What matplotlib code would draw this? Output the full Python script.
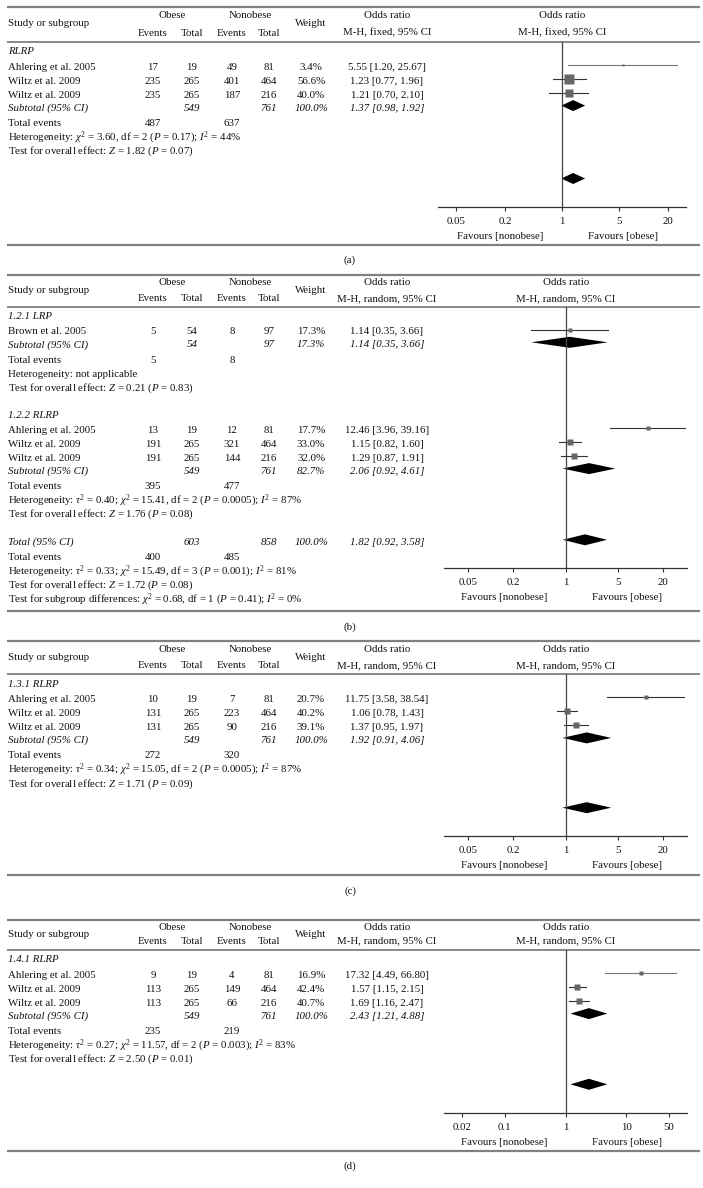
import matplotlib
matplotlib.use("Agg")
import matplotlib.pyplot as plt
from matplotlib.ticker import NullLocator
from math import sqrt

plt.rcParams['font.family'] = ['Liberation Serif', 'DejaVu Serif']
plt.rcParams['mathtext.fontset'] = 'custom'
plt.rcParams['mathtext.rm'] = 'Liberation Serif'
plt.rcParams['mathtext.it'] = 'Liberation Serif:italic'
plt.rcParams['font.size'] = 7.8

W, H = 703, 1188

# rows: study, obese events, obese total, nonobese events, nonobese total, weight %, OR, lower, upper
rlrp_a = [
    ("Ahlering et al. 2005", 17, 19, 49, 81, 3.4, 5.55, 1.20, 25.67),
    ("Wiltz et al. 2009", 235, 265, 401, 464, 56.6, 1.23, 0.77, 1.96),
    ("Wiltz et al. 2009", 235, 265, 187, 216, 40.0, 1.21, 0.70, 2.10),
]
sub_a = (549, 761, 100.0, 1.37, 0.98, 1.92)
events_a = (487, 637)
het_a = r"$\chi^2$ = 3.60, df = 2 ($P$ = 0.17); $I^2$ = 44%"
test_a = r"$Z$ = 1.82 ($P$ = 0.07)"

lrp_b = [
    ("Brown et al. 2005", 5, 54, 8, 97, 17.3, 1.14, 0.35, 3.66),
]
sub_b1 = (54, 97, 17.3, 1.14, 0.35, 3.66)
events_b1 = (5, 8)
het_b1 = "not applicable"
test_b1 = r"$Z$ = 0.21 ($P$ = 0.83)"

rlrp_b = [
    ("Ahlering et al. 2005", 13, 19, 12, 81, 17.7, 12.46, 3.96, 39.16),
    ("Wiltz et al. 2009", 191, 265, 321, 464, 33.0, 1.15, 0.82, 1.60),
    ("Wiltz et al. 2009", 191, 265, 144, 216, 32.0, 1.29, 0.87, 1.91),
]
sub_b2 = (549, 761, 82.7, 2.06, 0.92, 4.61)
events_b2 = (395, 477)
het_b2 = r"$\tau^2$ = 0.40; $\chi^2$ = 15.41, df = 2 ($P$ = 0.0005); $I^2$ = 87%"
test_b2 = r"$Z$ = 1.76 ($P$ = 0.08)"

total_b = (603, 858, 100.0, 1.82, 0.92, 3.58)
events_b = (400, 485)
het_b = r"$\tau^2$ = 0.33; $\chi^2$ = 15.49, df = 3 ($P$ = 0.001); $I^2$ = 81%"
test_b = r"$Z$ = 1.72 ($P$ = 0.08)"
diff_b = r"$\chi^2$ = 0.68, df = 1 ($P$ = 0.41); $I^2$ = 0%"

rlrp_c = [
    ("Ahlering et al. 2005", 10, 19, 7, 81, 20.7, 11.75, 3.58, 38.54),
    ("Wiltz et al. 2009", 131, 265, 223, 464, 40.2, 1.06, 0.78, 1.43),
    ("Wiltz et al. 2009", 131, 265, 90, 216, 39.1, 1.37, 0.95, 1.97),
]
sub_c = (549, 761, 100.0, 1.92, 0.91, 4.06)
events_c = (272, 320)
het_c = r"$\tau^2$ = 0.34; $\chi^2$ = 15.05, df = 2 ($P$ = 0.0005); $I^2$ = 87%"
test_c = r"$Z$ = 1.71 ($P$ = 0.09)"

rlrp_d = [
    ("Ahlering et al. 2005", 9, 19, 4, 81, 16.9, 17.32, 4.49, 66.80),
    ("Wiltz et al. 2009", 113, 265, 149, 464, 42.4, 1.57, 1.15, 2.15),
    ("Wiltz et al. 2009", 113, 265, 66, 216, 40.7, 1.69, 1.16, 2.47),
]
sub_d = (549, 761, 100.0, 2.43, 1.21, 4.88)
events_d = (235, 219)
het_d = r"$\tau^2$ = 0.27; $\chi^2$ = 11.57, df = 2 ($P$ = 0.003); $I^2$ = 83%"
test_d = r"$Z$ = 2.50 ($P$ = 0.01)"

ticks_abc = [0.05, 0.2, 1, 5, 20]
ticks_d = [0.02, 0.1, 1, 10, 50]

# column centres (pixels)
X_NAME, X_EV1, X_N1, X_EV2, X_N2, X_W, X_OR = 8, 153, 192, 232, 269, 311, 387
DY = 2.5  # markers sit a little above the text centre

fig = plt.figure(figsize=(W / 100, H / 100), dpi=100)
tab = fig.add_axes([0, 0, 1, 1])
tab.set_xlim(0, W)
tab.set_ylim(H, 0)
tab.axis('off')


def txt(x, y, s, ha='center', style='normal'):
    tab.text(x, y, s, ha=ha, va='center', style=style, color='#111111')


def rule(y, lw=1.3):
    tab.plot([7, 700], [y, y], color='#808080', lw=lw, solid_capstyle='butt')


def header(top, y1, y2, hl, model, xc):
    rule(top, 1.6)
    txt(X_NAME, (y1 + y2) / 2, "Study or subgroup", ha='left')
    txt((X_EV1 + X_N1) / 2, y1, "Obese")
    txt(X_EV1, y2, "Events")
    txt(X_N1, y2, "Total")
    txt((X_EV2 + X_N2) / 2, y1, "Nonobese")
    txt(X_EV2, y2, "Events")
    txt(X_N2, y2, "Total")
    txt(X_W, (y1 + y2) / 2, "Weight")
    txt(X_OR, y1, "Odds ratio")
    txt(X_OR, y2, "M-H, %s, 95%% CI" % model)
    txt(xc, y1, "Odds ratio")
    txt(xc, y2, "M-H, %s, 95%% CI" % model)
    rule(hl, 1.3)


def forest(left, right, top, bottom, half, ticks):
    fa = fig.add_axes([left / W, 1 - bottom / H, (right - left) / W, (bottom - top) / H])
    fa.set_xscale('log')
    fa.set_xlim(10 ** -half, 10 ** half)
    fa.set_ylim(bottom, top)
    fa.patch.set_alpha(0)
    for s in ('top', 'left', 'right'):
        fa.spines[s].set_visible(False)
    fa.spines['bottom'].set_color('#333333')
    fa.spines['bottom'].set_linewidth(0.9)
    fa.set_yticks([])
    fa.set_xticks(ticks)
    fa.set_xticklabels(['%g' % t for t in ticks])
    fa.xaxis.set_minor_locator(NullLocator())
    fa.tick_params(axis='x', length=3, width=0.8, pad=4, color='#333333', labelsize=7.8,
                   labelcolor='#111111')
    fa.axvline(1, color='#444444', lw=0.9)
    return fa


def diamond(fa, y, est, lo, hi, h=11):
    fa.fill([lo, est, hi, est], [y, y - h / 2, y, y + h / 2], color='black', lw=0)


def summary(fa, y, label, vals, italic=True, draw=True):
    n1, n2, w, est, lo, hi = vals
    st = 'italic' if italic else 'normal'
    txt(X_NAME, y, label, ha='left', style=st)
    txt(X_N1, y, str(n1), style=st)
    txt(X_N2, y, str(n2), style=st)
    txt(X_W, y, '%.1f%%' % w, style=st)
    txt(X_OR, y, '%.2f [%.2f, %.2f]' % (est, lo, hi), style=st)
    if draw:
        diamond(fa, y - DY, est, lo, hi)


def stats(y, events, het, test):
    txt(X_NAME, y, "Total events", ha='left')
    txt(X_EV1, y, str(events[0]))
    txt(X_EV2, y, str(events[1]))
    txt(X_NAME, y + 14, "Heterogeneity: " + het, ha='left')
    txt(X_NAME, y + 28, "Test for overall effect: " + test, ha='left')


def subgroup(fa, y0, label, rows, sub, events, het, test, k):
    txt(X_NAME, y0, label, ha='left', style='italic')
    y = y0 + 15.3
    for name, e1, n1, e2, n2, w, est, lo, hi in rows:
        txt(X_NAME, y, name, ha='left')
        for x, v in zip((X_EV1, X_N1, X_EV2, X_N2), (e1, n1, e2, n2)):
            txt(x, y, str(v))
        txt(X_W, y, '%.1f%%' % w)
        txt(X_OR, y, '%.2f [%.2f, %.2f]' % (est, lo, hi))
        # small-weight studies are drawn with a lighter line, as in the source
        lc = '#777777' if w < 17 else '#333333'
        fa.plot([lo, hi], [y - DY, y - DY], color=lc, lw=0.8)
        fa.plot(est, y - DY, marker='s', ms=k * sqrt(w) * 0.72, color='#666666', mec='none')
        y += 14
    y += -14 + 12.8
    summary(fa, y, "Subtotal (95% CI)", sub)
    stats(y + 15.6, events, het, test)
    return y


def footer(fa_axis, xc, bottom, cap_y, cap):
    txt(xc - 62, fa_axis + 29.5, "Favours [nonobese]")
    txt(xc + 61, fa_axis + 29.5, "Favours [obese]")
    rule(bottom, 1.6)
    txt(350, cap_y, cap)


# (a)
header(7, 15, 33, 42, "fixed", 562)
fa = forest(438, 686, 42, 207, 1.52, ticks_abc)
subgroup(fa, 52, "RLRP", rlrp_a, sub_a, events_a, het_a, test_a, 1.2)
diamond(fa, 178.5, *sub_a[3:])
footer(207, 562, 245, 260.5, "(a)")

# (b)
header(275, 282.7, 298.3, 306.7, "random", 566)
fb = forest(444, 687, 306.7, 568.3, 1.62, ticks_abc)
subgroup(fb, 316.7, "1.2.1 LRP", lrp_b, sub_b1, events_b1, het_b1, test_b1, 0.95)
subgroup(fb, 415, "1.2.2 RLRP", rlrp_b, sub_b2, events_b2, het_b2, test_b2, 0.95)
summary(fb, 542.3, "Total (95% CI)", total_b)
stats(557.7, events_b, het_b, test_b)
txt(X_NAME, 599.5, "Test for subgroup differences: " + diff_b, ha='left')
footer(568.3, 566, 610.7, 626.7, "(b)")

# (c)
header(641, 650, 665.7, 674, "random", 566)
fc = forest(444, 687, 674, 836, 1.62, ticks_abc)
subgroup(fc, 684.3, "1.3.1 RLRP", rlrp_c, sub_c, events_c, het_c, test_c, 1.05)
diamond(fc, 807.7, *sub_c[3:])
footer(836, 566, 875, 890.7, "(c)")

# (d)
header(920, 927.7, 941, 950, "random", 566)
fd = forest(444, 687, 950, 1113.3, 2.0, ticks_d)
subgroup(fd, 960, "1.4.1 RLRP", rlrp_d, sub_d, events_d, het_d, test_d, 1.03)
diamond(fd, 1084.3, *sub_d[3:])
footer(1113.3, 566, 1150.5, 1165.7, "(d)")

fig.savefig("out.png", dpi=100)
